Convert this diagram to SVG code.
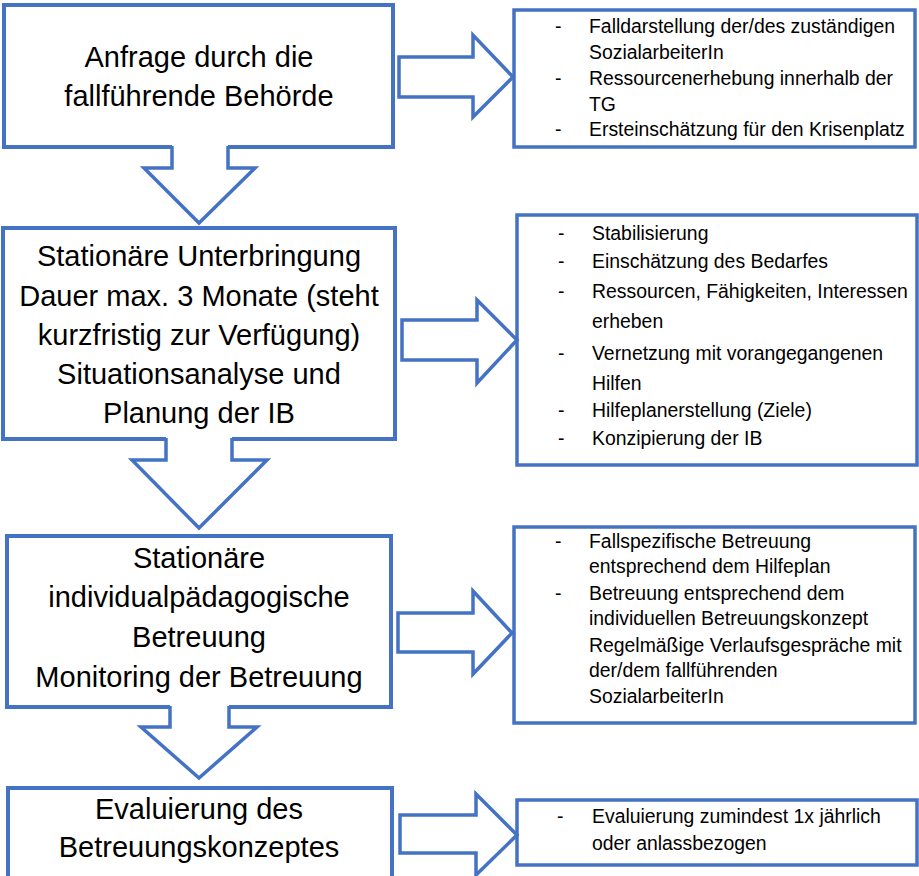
<svg xmlns="http://www.w3.org/2000/svg" width="919" height="876" viewBox="0 0 919 876">
<style>
.box{fill:#fff;stroke:#4472C4;stroke-width:4}
.rbox{fill:#fff;stroke:#4472C4;stroke-width:3.5}
.arr{fill:#fff;stroke:#4472C4;stroke-width:3.5;stroke-linejoin:miter}
.cover{fill:#fff;stroke:none}
.big{font-family:"Liberation Sans",Arial,sans-serif;font-size:29px;fill:#000;text-anchor:middle}
.sm{font-family:"Liberation Sans",Arial,sans-serif;font-size:19.4px;fill:#000}
</style>
<rect width="919" height="876" fill="#fff"/>

<g id="node-anfrage">
<rect class="box" x="4" y="5" width="389" height="142"/>
<text class="big" x="199" y="67">Anfrage durch die</text>
<text class="big" x="199" y="106">fallführende Behörde</text>
</g>

<g id="node-unterbringung">
<rect class="box" x="3" y="228" width="392" height="211"/>
<text class="big" x="199" y="266">Stationäre Unterbringung</text>
<text class="big" x="199" y="305.5">Dauer max. 3 Monate (steht</text>
<text class="big" x="199" y="345">kurzfristig zur Verfügung)</text>
<text class="big" x="199" y="384">Situationsanalyse und</text>
<text class="big" x="199" y="423">Planung der IB</text>
</g>

<g id="node-betreuung">
<rect class="box" x="7" y="536" width="384" height="171"/>
<text class="big" x="199" y="568">Stationäre</text>
<text class="big" x="199" y="607">individualpädagogische</text>
<text class="big" x="199" y="647">Betreuung</text>
<text class="big" x="199" y="687">Monitoring der Betreuung</text>
</g>

<g id="node-evaluierung">
<rect class="box" x="8" y="788" width="384" height="100"/>
<text class="big" x="199" y="819">Evaluierung des</text>
<text class="big" x="199" y="857">Betreuungskonzeptes</text>
</g>

<g id="node-info1">
<rect class="rbox" x="514" y="10" width="401" height="137"/>
<text class="sm" x="555" y="33">-</text>
<text class="sm" x="589" y="33">Falldarstellung der/des zuständigen</text>
<text class="sm" x="589" y="59">SozialarbeiterIn</text>
<text class="sm" x="555" y="85">-</text>
<text class="sm" x="589" y="85">Ressourcenerhebung innerhalb der</text>
<text class="sm" x="589" y="111">TG</text>
<text class="sm" x="555" y="136">-</text>
<text class="sm" x="589" y="136">Ersteinschätzung für den Krisenplatz</text>
</g>

<g id="node-info2">
<rect class="rbox" x="517" y="215" width="400" height="250"/>
<text class="sm" x="558" y="240">-</text>
<text class="sm" x="592" y="240">Stabilisierung</text>
<text class="sm" x="558" y="268">-</text>
<text class="sm" x="592" y="268">Einschätzung des Bedarfes</text>
<text class="sm" x="558" y="298">-</text>
<text class="sm" x="592" y="298">Ressourcen, Fähigkeiten, Interessen</text>
<text class="sm" x="592" y="328">erheben</text>
<text class="sm" x="558" y="360">-</text>
<text class="sm" x="592" y="360">Vernetzung mit vorangegangenen</text>
<text class="sm" x="592" y="390">Hilfen</text>
<text class="sm" x="558" y="417">-</text>
<text class="sm" x="592" y="417">Hilfeplanerstellung (Ziele)</text>
<text class="sm" x="558" y="445">-</text>
<text class="sm" x="592" y="445">Konzipierung der IB</text>
</g>

<g id="node-info3">
<rect class="rbox" x="514" y="527" width="401" height="196"/>
<text class="sm" x="555" y="548">-</text>
<text class="sm" x="589" y="548">Fallspezifische Betreuung</text>
<text class="sm" x="589" y="573">entsprechend dem Hilfeplan</text>
<text class="sm" x="555" y="600">-</text>
<text class="sm" x="589" y="600">Betreuung entsprechend dem</text>
<text class="sm" x="589" y="625">individuellen Betreuungskonzept</text>
<text class="sm" x="589" y="652">Regelmäßige Verlaufsgespräche mit</text>
<text class="sm" x="589" y="677">der/dem fallführenden</text>
<text class="sm" x="589" y="703">SozialarbeiterIn</text>
</g>

<g id="node-info4">
<rect class="rbox" x="517" y="800" width="400" height="65"/>
<text class="sm" x="557" y="823">-</text>
<text class="sm" x="592" y="823">Evaluierung zumindest 1x jährlich</text>
<text class="sm" x="592" y="850">oder anlassbezogen</text>
</g>

<g id="connectors">
<polygon class="cover" points="172,144 172,168 144,168 199,223 255,168 228,168 228,144"/>
<path class="arr" d="M172,146 V168 H144 L199,223 L255,168 H228 V146"/>
<polygon class="cover" points="166,436 166,460 132,460 199,528 267,460 232,460 232,436"/>
<path class="arr" d="M166,438 V460 H132 L199,528 L267,460 H232 V438"/>
<polygon class="cover" points="170,704 170,727 141,727 199,778 257,727 229,727 229,704"/>
<path class="arr" d="M170,706 V727 H141 L199,778 L257,727 H229 V706"/>
<polygon class="arr" points="399,57 473,57 473,35 513,77 473,117 473,97 399,97"/>
<polygon class="arr" points="402,320 477,320 477,300 517,340 477,383 477,360 402,360"/>
<polygon class="arr" points="398,613 473,613 473,591 512,633 473,674 473,652 398,652"/>
<polygon class="arr" points="400,815 476,815 476,794 517,835 476,875 476,853 400,853"/>
</g>
</svg>
